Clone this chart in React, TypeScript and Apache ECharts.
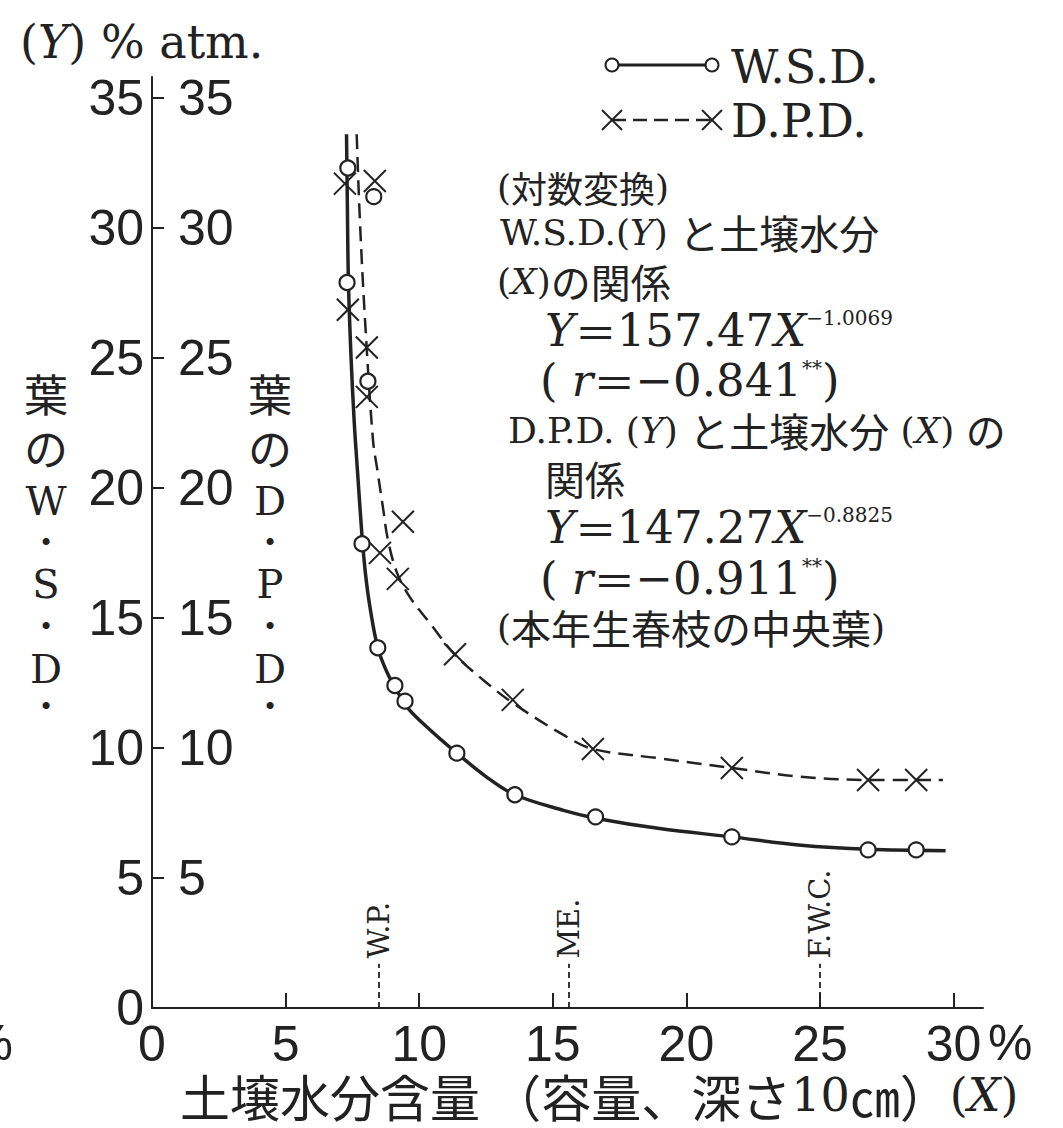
import React, { useEffect, useRef } from "react";
import * as echarts from "echarts";

// ---- axis ticks ----
const xTickValues = [0, 5, 10, 15, 20, 25, 30];
const yTickValues = [0, 5, 10, 15, 20, 25, 30, 35];
const yInnerLabelValues = [5, 10, 15, 20, 25, 30, 35];

// ---- observed points ----
const wsdPointX = [7.33, 8.3, 7.3, 8.08, 7.86, 8.45, 9.09, 9.47, 11.41, 13.58, 16.6, 21.7, 26.8, 28.6];
const wsdPointY = [32.3, 31.2, 27.9, 24.1, 17.85, 13.85, 12.4, 11.8, 9.8, 8.2, 7.35, 6.58, 6.08, 6.08];
const dpdPointX = [7.22, 8.34, 7.33, 8.04, 8.04, 9.39, 8.53, 9.2, 11.34, 13.5, 16.5, 21.7, 26.8, 28.6];
const dpdPointY = [31.7, 31.8, 26.85, 25.4, 23.5, 18.7, 17.5, 16.5, 13.6, 11.85, 9.96, 9.23, 8.77, 8.77];

// ---- fitted curves (traced) ----
const wsdCurveX = [7.28, 7.31, 7.35, 7.45, 7.57, 7.7, 7.8, 7.88, 8.0, 8.16, 8.45, 8.8, 9.17, 9.6, 10.4, 11.41, 12.5, 13.58, 15.4, 16.6, 19.0, 21.7, 24.2, 26.8, 29.7];
const wsdCurveY = [33.6, 31.0, 28.0, 25.0, 22.5, 20.5, 19.0, 17.9, 16.6, 15.4, 13.85, 12.9, 12.2, 11.5, 10.7, 9.8, 8.9, 8.2, 7.6, 7.3, 6.9, 6.58, 6.27, 6.1, 6.05];
const dpdCurveX = [7.66, 7.78, 7.97, 8.27, 8.45, 8.64, 8.83, 9.17, 9.65, 10.4, 11.34, 12.53, 13.5, 15.4, 16.5, 19.0, 21.7, 24.2, 26.8, 29.6];
const dpdCurveY = [33.6, 30.3, 26.5, 21.85, 20.58, 19.27, 18.0, 16.73, 15.8, 14.8, 13.58, 12.5, 11.73, 10.5, 9.96, 9.6, 9.23, 8.9, 8.77, 8.77];

// ---- reference moisture levels ----
const refLabels = ["W.P.", "ME.", "F.W.C."];
const refX = [8.5, 15.6, 25.0];

const INK = "#222";
const LATIN = '"DejaVu Serif", "Noto Sans CJK JP", serif';
const CJK = '"Noto Sans CJK JP", "DejaVu Serif", sans-serif';
const SANS = '"Liberation Sans", "DejaVu Sans", sans-serif';

const zip = (xs: number[], ys: number[]) => xs.map((x, i) => [x, ys[i]]);

const rich: any = {
  n: { fontFamily: LATIN, fontSize: 36, color: INK },
  i: { fontFamily: LATIN, fontSize: 36, fontStyle: "italic", color: INK },
  j: { fontFamily: CJK, fontSize: 40, color: INK },
  js: { fontFamily: CJK, fontSize: 36, color: INK },
  e: { fontFamily: LATIN, fontSize: 45, color: INK },
  ei: { fontFamily: LATIN, fontSize: 45, fontStyle: "italic", color: INK },
  ej: { fontFamily: CJK, fontSize: 42, color: INK },
  s: { fontFamily: LATIN, fontSize: 20, color: INK, verticalAlign: "top" },
  t: { fontFamily: LATIN, fontSize: 46, color: INK },
  ti: { fontFamily: LATIN, fontSize: 46, fontStyle: "italic", color: INK },
  a: { fontFamily: CJK, fontSize: 50, lineHeight: 50, color: INK },
  al: { fontFamily: LATIN, fontSize: 46, lineHeight: 50, color: INK },
  ai: { fontFamily: LATIN, fontSize: 46, lineHeight: 50, fontStyle: "italic", color: INK },
};

function txt(x: number, y: number, text: string, extra: any = {}) {
  return {
    type: "text",
    x,
    y,
    style: {
      text,
      rich,
      fill: INK,
      align: "left",
      verticalAlign: "middle",
      textAlign: "left",
      textVerticalAlign: "middle",
      ...extra,
    },
  };
}

function plain(x: number, y: number, text: string, fontSize: number, fontFamily: string, extra: any = {}) {
  return {
    type: "text",
    x,
    y,
    style: {
      text,
      fill: INK,
      font: `${fontSize}px ${fontFamily}`,
      fontSize,
      fontFamily,
      align: "center",
      verticalAlign: "middle",
      textAlign: "center",
      textVerticalAlign: "middle",
      ...extra,
    },
  };
}

function cross(cx: number, cy: number, s: number) {
  return {
    type: "group",
    children: [
      { type: "line", shape: { x1: cx - s, y1: cy - s, x2: cx + s, y2: cy + s }, style: { stroke: INK, lineWidth: 2 } },
      { type: "line", shape: { x1: cx - s, y1: cy + s, x2: cx + s, y2: cy - s }, style: { stroke: INK, lineWidth: 2 } },
    ],
  };
}

const leftTitleChars = ["葉", "の", "W", "•", "S", "•", "D", "•"];
const rightTitleChars = ["葉", "の", "D", "•", "P", "•", "D", "•"];
const titleYs = [393, 447, 500, 543, 583, 627, 668, 707];

function titleChar(x: number, y: number, c: string) {
  if (c === "•") return plain(x, y, c, 24, LATIN);
  if (/[A-Z]/.test(c)) return plain(x, y + 1, c, 40, LATIN);
  return plain(x, y, c, 44, CJK);
}

function staticGraphics(): any[] {
  const g: any[] = [];
  // top-left unit
  g.push(txt(20, 42, "{t|(}{ti|Y}{t|) % atm.}"));
  // vertical axis titles
  leftTitleChars.forEach((c, i) => g.push(titleChar(46, titleYs[i], c)));
  rightTitleChars.forEach((c, i) => g.push(titleChar(270, titleYs[i], c)));
  // legend
  g.push({ type: "line", shape: { x1: 612, y1: 65, x2: 712, y2: 65 }, style: { stroke: INK, lineWidth: 3 } });
  g.push({ type: "circle", shape: { cx: 612, cy: 65, r: 6.5 }, style: { fill: "#fff", stroke: INK, lineWidth: 2 } });
  g.push({ type: "circle", shape: { cx: 712, cy: 65, r: 6.5 }, style: { fill: "#fff", stroke: INK, lineWidth: 2 } });
  g.push({ type: "line", shape: { x1: 612, y1: 120, x2: 712, y2: 120 }, style: { stroke: INK, lineWidth: 2.5, lineDash: [14, 7] } });
  g.push(cross(612, 120, 10));
  g.push(cross(712, 120, 10));
  g.push(plain(731, 67, "W.S.D.", 46, LATIN, { align: "left", textAlign: "left" }));
  g.push(plain(731, 121, "D.P.D.", 46, LATIN, { align: "left", textAlign: "left" }));
  // annotation block
  g.push(txt(497, 187, "{n|(}{js|対数変換}{n|)}"));
  g.push(txt(500, 232, "{n|W.S.D.(}{i|Y}{n|) }{j|と土壌水分}"));
  g.push(txt(497, 281, "{n|(}{i|X}{n|)}{j|の関係}"));
  g.push(txt(545, 330, "{ei|Y}{ej|＝}{e|157.47}{ei|X}{s|−1.0069}"));
  g.push(txt(540, 380, "{e|( }{ei|r}{ej|＝}{e|−0.841}{s|**}{e|)}"));
  g.push(txt(508, 430, "{n|D.P.D. (}{i|Y}{n|) }{j|と土壌水分}{n| (}{i|X}{n|) }{j|の}"));
  g.push(txt(545, 478, "{j|関係}"));
  g.push(txt(545, 527, "{ei|Y}{ej|＝}{e|147.27}{ei|X}{s|−0.8825}"));
  g.push(txt(540, 578, "{e|( }{ei|r}{ej|＝}{e|−0.911}{s|**}{e|)}"));
  g.push(txt(497, 627, "{n|(}{j|本年生春枝の中央葉}{n|)}"));
  // x axis unit and title
  g.push(plain(988, 1043, "%", 50, SANS, { align: "left", textAlign: "left", lineHeight: 44 }));
  g.push(plain(13, 1043, "%", 50, SANS, { align: "right", textAlign: "right", lineHeight: 44 }));
  g.push(txt(180, 1095, "{a|土壌水分含量 （容量、深さ}{al|10}{a|㎝）}{al|(}{ai|X}{al|)}"));
  return g;
}

export default function App() {
  const ref = useRef<HTMLDivElement>(null);

  useEffect(() => {
    if (!ref.current) return;
    const chart = echarts.init(ref.current, null, { renderer: "svg" });

    const axisLabelBase = { color: INK, fontSize: 50, fontFamily: SANS };

    const option: any = {
      animation: false,
      backgroundColor: "#fff",
      grid: { left: 152, right: 80, top: 77, bottom: 120, containLabel: false },
      xAxis: {
        type: "value",
        min: 0,
        max: 31.1,
        interval: 5,
        splitLine: { show: false },
        axisLine: { show: true, lineStyle: { color: INK, width: 2 } },
        axisTick: { show: true, inside: true, length: 15, lineStyle: { color: INK, width: 2 }, customValues: xTickValues },
        axisLabel: { ...axisLabelBase, lineHeight: 44, margin: 14, customValues: xTickValues },
      },
      yAxis: [
        {
          type: "value",
          position: "left",
          min: 0,
          max: 35.8,
          interval: 5,
          splitLine: { show: false },
          axisLine: { show: true, lineStyle: { color: INK, width: 2 } },
          axisTick: { show: false },
          axisLabel: { ...axisLabelBase, margin: 8, customValues: yTickValues },
        },
        {
          type: "value",
          position: "left",
          offset: 0,
          min: 0,
          max: 35.8,
          interval: 5,
          splitLine: { show: false },
          axisLine: { show: false },
          axisTick: { show: true, inside: true, length: 12, lineStyle: { color: INK, width: 2 }, customValues: yInnerLabelValues },
          axisLabel: { ...axisLabelBase, inside: true, margin: 26, customValues: yInnerLabelValues },
        },
      ],
      series: [
        {
          name: "W.S.D. curve",
          type: "line",
          data: zip(wsdCurveX, wsdCurveY),
          smooth: 0.35,
          showSymbol: false,
          lineStyle: { color: INK, width: 3.5 },
          z: 2,
          silent: true,
        },
        {
          name: "D.P.D. curve",
          type: "line",
          yAxisIndex: 1,
          data: zip(dpdCurveX, dpdCurveY),
          smooth: 0.35,
          showSymbol: false,
          lineStyle: { color: INK, width: 2.5, type: [15, 8] },
          z: 2,
          silent: true,
        },
        {
          name: "W.S.D.",
          type: "scatter",
          data: zip(wsdPointX, wsdPointY),
          symbol: "circle",
          symbolSize: 15,
          itemStyle: { color: "#fff", borderColor: INK, borderWidth: 2.2, opacity: 1 },
          z: 5,
        },
        {
          name: "D.P.D.",
          type: "scatter",
          yAxisIndex: 1,
          data: zip(dpdPointX, dpdPointY),
          symbol: "path://M0,0L20,20M20,0L0,20",
          symbolSize: 22,
          itemStyle: { color: "none", borderColor: INK, borderWidth: 2, opacity: 1 },
          z: 4,
          markLine: {
            silent: true,
            symbol: "none",
            label: { show: false },
            lineStyle: { color: INK, width: 1.8, type: [6, 4] },
            data: refX.map((x) => [{ coord: [x, 0] }, { coord: [x, 1.7] }]),
          },
        },
      ],
    };

    chart.setOption(option);

    const refGraphics = refX.map((x, i) => {
      const p = chart.convertToPixel({ gridIndex: 0 }, [x, 1.9]) as number[];
      return {
        type: "text",
        x: p[0],
        y: p[1],
        rotation: Math.PI / 2,
        style: {
          text: refLabels[i],
          fill: INK,
          fontSize: 29,
          fontFamily: LATIN,
          font: `29px ${LATIN}`,
          align: "left",
          verticalAlign: "middle",
          textAlign: "left",
          textVerticalAlign: "middle",
        },
      };
    });

    chart.setOption({ graphic: { elements: [...staticGraphics(), ...refGraphics] } });

    return () => chart.dispose();
  }, []);

  return (
    <div
      ref={ref}
      style={{ position: "fixed", left: 0, top: 0, width: 1063, height: 1128, background: "#fff" }}
    />
  );
}
